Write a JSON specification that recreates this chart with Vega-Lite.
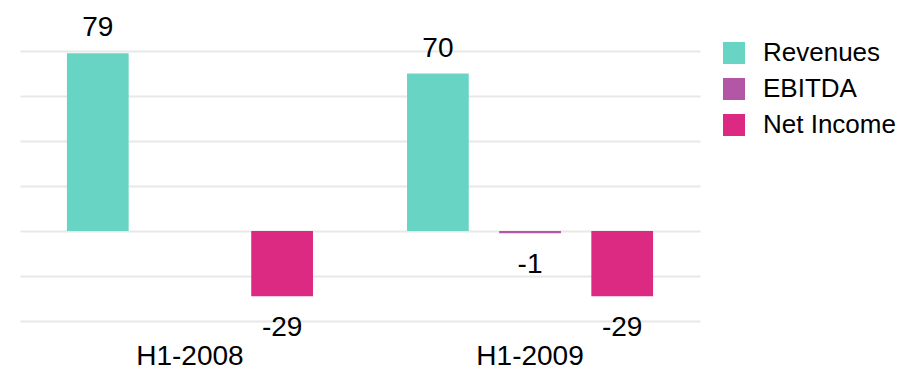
{
  "$schema": "https://vega.github.io/schema/vega-lite/v6.json",
  "width": 680,
  "height": 270,
  "autosize": {"type": "none"},
  "padding": {"left": 20, "top": 51, "right": 200, "bottom": 49},
  "background": "white",
  "config": {
    "view": {"stroke": null},
    "font": "Liberation Sans",
    "locale": {
      "number": {
        "decimal": ".",
        "thousands": ",",
        "grouping": [3],
        "currency": ["$", ""],
        "minus": "-"
      }
    }
  },
  "data": {
    "values": [
      {"period": "H1-2008", "series": "Revenues", "value": 79},
      {"period": "H1-2008", "series": "EBITDA", "value": 0},
      {"period": "H1-2008", "series": "Net Income", "value": -29},
      {"period": "H1-2009", "series": "Revenues", "value": 70},
      {"period": "H1-2009", "series": "EBITDA", "value": -1},
      {"period": "H1-2009", "series": "Net Income", "value": -29}
    ]
  },
  "encoding": {
    "x": {
      "field": "period",
      "type": "nominal",
      "title": null,
      "scale": {"paddingInner": 0.2765, "paddingOuter": 0.138},
      "axis": {
        "labelAngle": 0,
        "ticks": false,
        "tickSize": 0,
        "domain": false,
        "labelFontSize": 28,
        "labelColor": "#000000",
        "labelBaseline": "alphabetic",
        "labelPadding": 43,
        "grid": false
      }
    },
    "xOffset": {
      "field": "series",
      "type": "nominal",
      "sort": ["Revenues", "EBITDA", "Net Income"],
      "scale": {"paddingInner": 0.33, "paddingOuter": 0}
    },
    "y": {
      "field": "value",
      "type": "quantitative",
      "title": null,
      "scale": {"domain": [-40, 80], "nice": false, "zero": true},
      "axis": {
        "values": [-40, -20, 0, 20, 40, 60, 80],
        "labels": false,
        "ticks": false,
        "domain": false,
        "grid": true,
        "gridColor": "#e8e8e8",
        "gridWidth": 2
      }
    }
  },
  "layer": [
    {
      "mark": {"type": "bar"},
      "encoding": {
        "color": {
          "field": "series",
          "type": "nominal",
          "sort": ["Revenues", "EBITDA", "Net Income"],
          "scale": {
            "domain": ["Revenues", "EBITDA", "Net Income"],
            "range": ["#68d5c4", "#b356a6", "#dc2a83"]
          },
          "legend": {
            "title": null,
            "orient": "none",
            "legendX": 701,
            "legendY": -11,
            "symbolType": "square",
            "symbolSize": 484,
            "symbolStrokeWidth": 0,
            "labelFontSize": 26,
            "labelColor": "#000000",
            "labelOffset": 16,
            "rowPadding": 10,
            "padding": 0
          }
        }
      }
    },
    {
      "transform": [{"filter": "datum.value > 0"}],
      "mark": {"type": "text", "fontSize": 28, "baseline": "alphabetic", "dy": -17, "color": "#000000"},
      "encoding": {"text": {"field": "value", "type": "quantitative", "format": "d"}}
    },
    {
      "transform": [{"filter": "datum.value < 0"}],
      "mark": {"type": "text", "fontSize": 28, "baseline": "alphabetic", "dy": 40, "color": "#000000"},
      "encoding": {"text": {"field": "value", "type": "quantitative", "format": "d"}}
    }
  ]
}
